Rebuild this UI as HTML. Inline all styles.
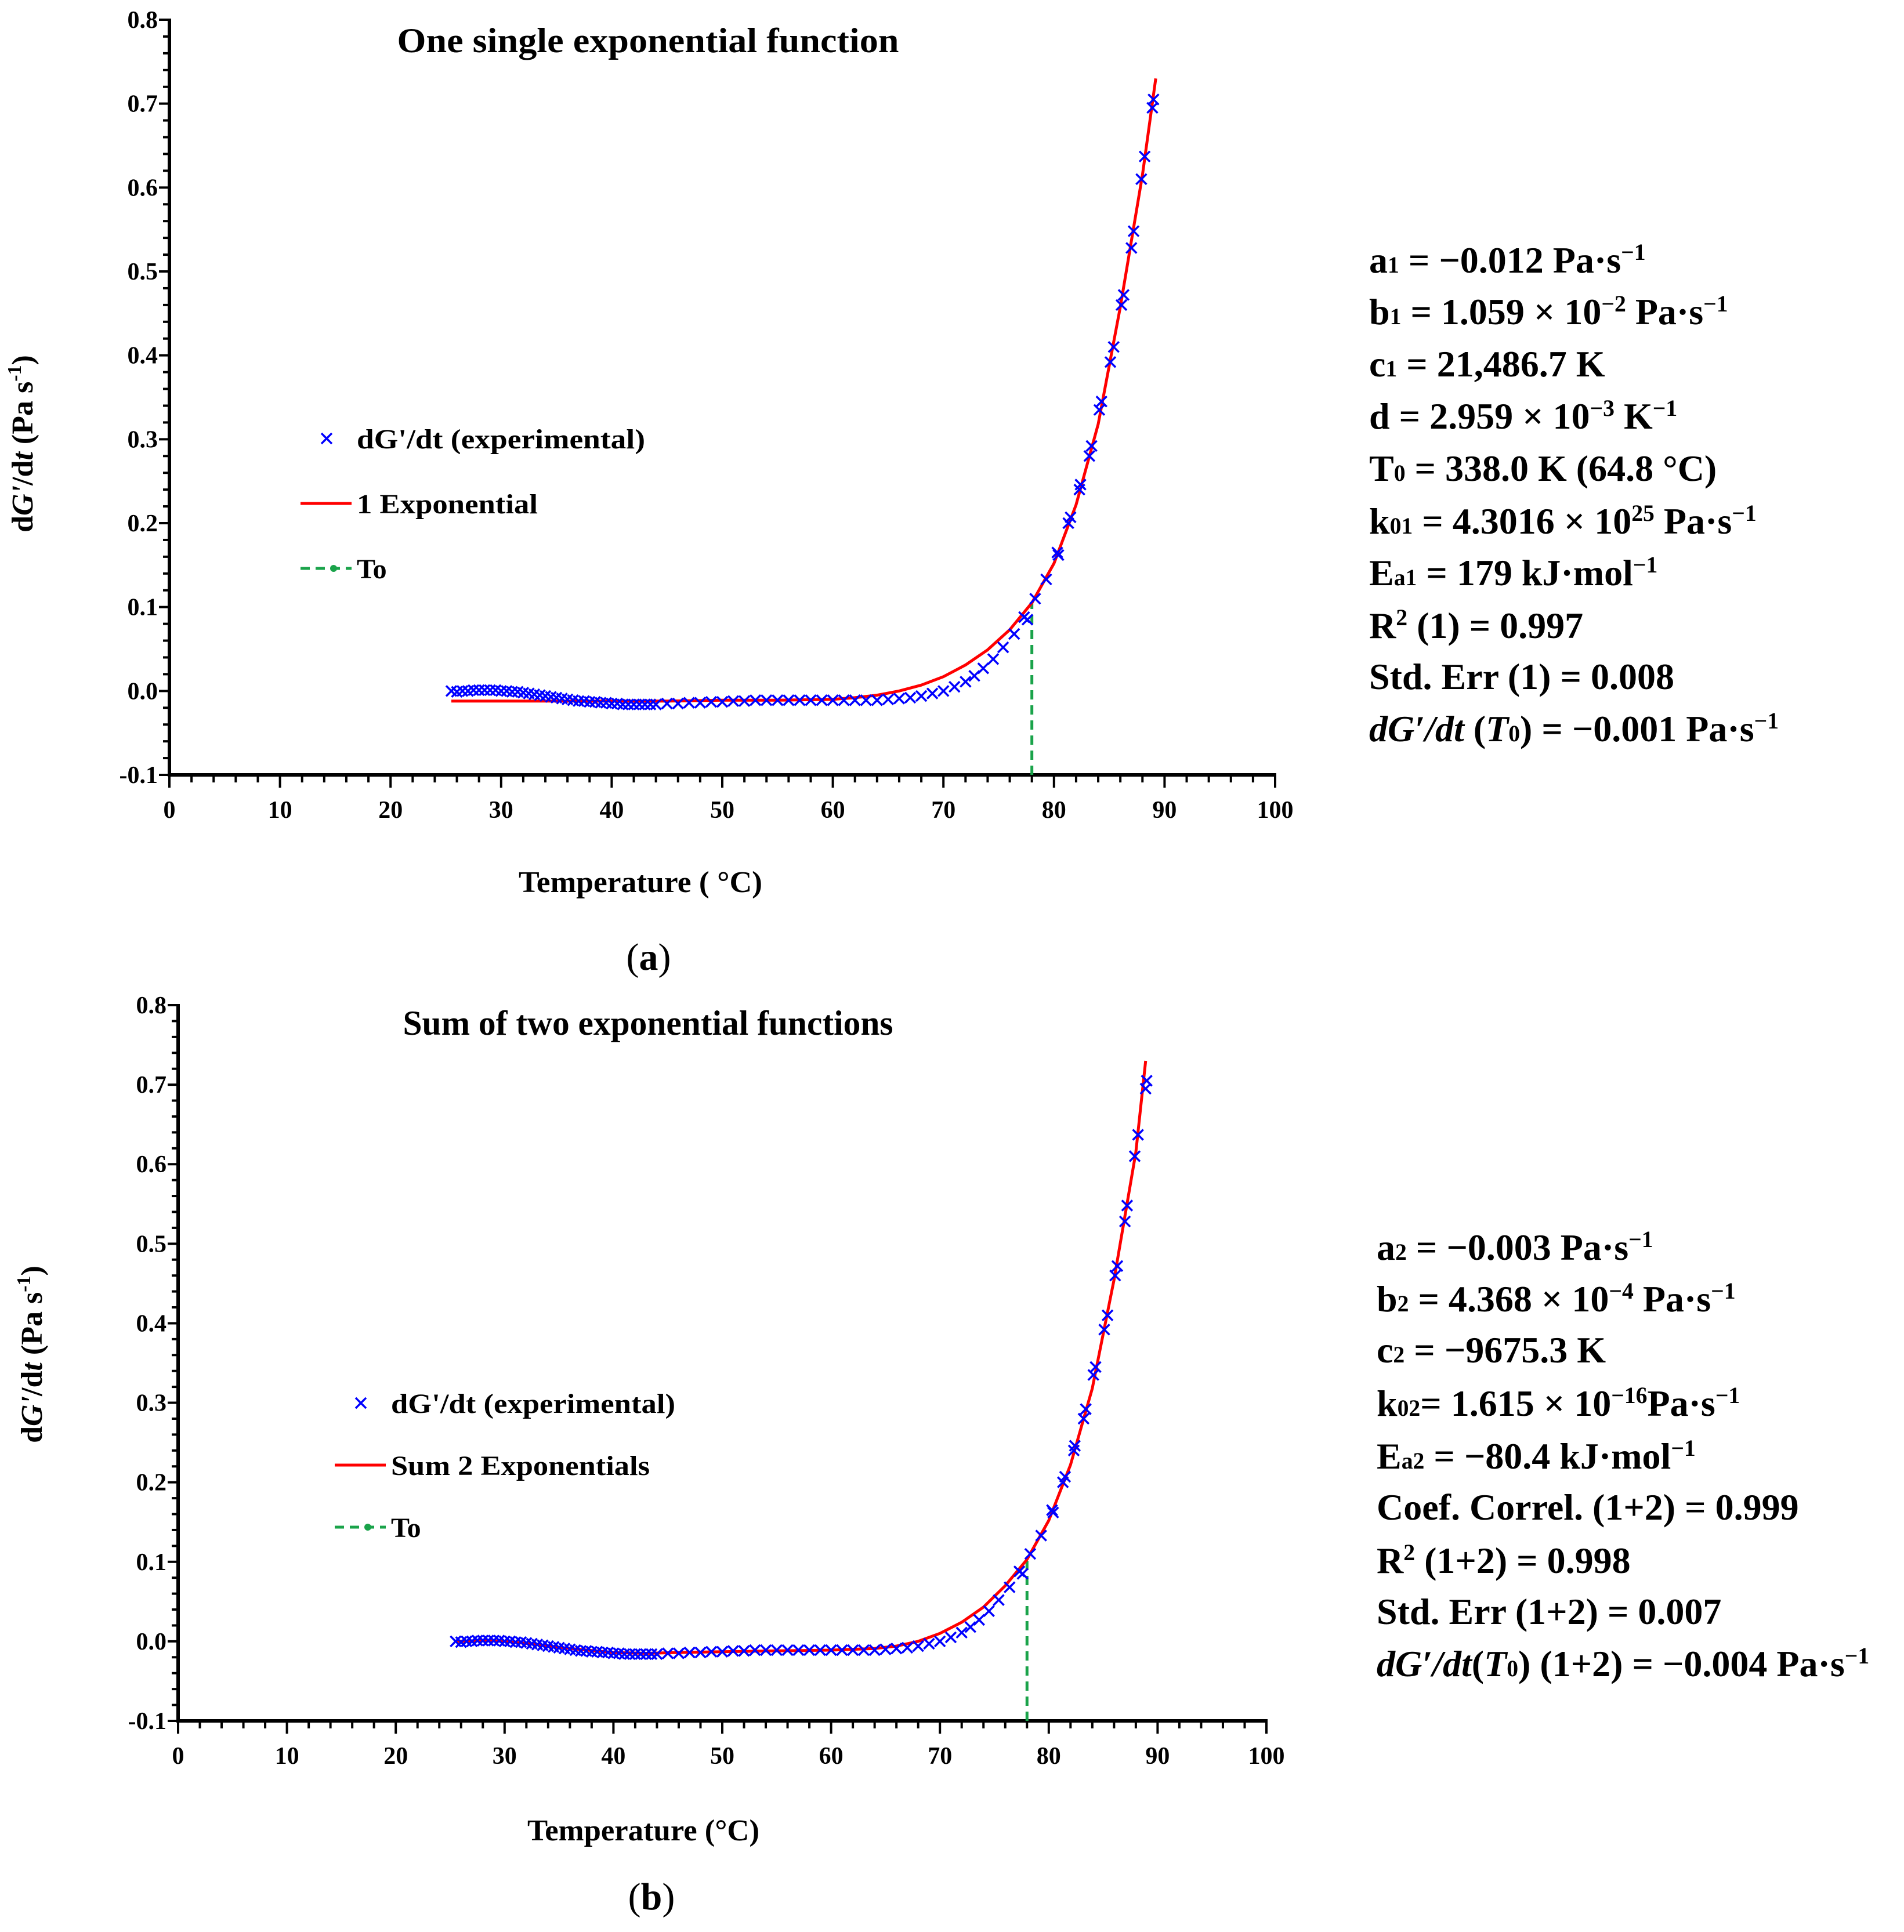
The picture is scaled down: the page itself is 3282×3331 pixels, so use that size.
<!DOCTYPE html>
<html><head><meta charset="utf-8">
<style>
html,body{margin:0;padding:0;background:#fff;}
#wrap{position:relative;width:3282px;height:3331px;overflow:hidden;background:#fff;}
svg{position:absolute;left:0;top:0;}
.ann{position:absolute;font-family:"Liberation Serif",serif;font-weight:bold;font-size:64px;color:#000;white-space:nowrap;line-height:1;}
.ann sub{font-size:0.62em;vertical-align:baseline;}
.ann sup{font-size:0.62em;vertical-align:0.55em;}
</style></head>
<body>
<div id="wrap">
<svg id="chart" width="3282" height="3331" xmlns="http://www.w3.org/2000/svg"></svg>

<div>
<div class="ann" style="left:2360px;top:416px">a<sub>1</sub> = −0.012 Pa·s<sup>−1</sup></div>
<div class="ann" style="left:2360px;top:505px">b<sub>1</sub> = 1.059 × 10<sup>−2</sup> Pa·s<sup>−1</sup></div>
<div class="ann" style="left:2360px;top:596px">c<sub>1</sub> = 21,486.7 K</div>
<div class="ann" style="left:2360px;top:685px">d = 2.959 × 10<sup>−3</sup> K<sup>−1</sup></div>
<div class="ann" style="left:2360px;top:776px">T<sub>0</sub> = 338.0 K (64.8 °C)</div>
<div class="ann" style="left:2360px;top:866px">k<sub>01</sub> = 4.3016 × 10<sup>25</sup> Pa·s<sup>−1</sup></div>
<div class="ann" style="left:2360px;top:955px">E<sub>a1</sub> = 179 kJ·mol<sup>−1</sup></div>
<div class="ann" style="left:2360px;top:1046px">R<sup>2</sup> (1) = 0.997</div>
<div class="ann" style="left:2360px;top:1135px">Std. Err (1) = 0.008</div>
<div class="ann" style="left:2360px;top:1224px"><i>dG′/dt</i> (<i>T</i><sub>0</sub>) = −0.001 Pa·s<sup>−1</sup></div>
</div>

<div>
<div class="ann" style="left:2373px;top:2118px">a<sub>2</sub> = −0.003 Pa·s<sup>−1</sup></div>
<div class="ann" style="left:2373px;top:2207px">b<sub>2</sub> = 4.368 × 10<sup>−4</sup> Pa·s<sup>−1</sup></div>
<div class="ann" style="left:2373px;top:2296px">c<sub>2</sub> = −9675.3 K</div>
<div class="ann" style="left:2373px;top:2387px">k<sub>02</sub>= 1.615 × 10<sup>−16</sup>Pa·s<sup>−1</sup></div>
<div class="ann" style="left:2373px;top:2478px">E<sub>a2</sub> = −80.4 kJ·mol<sup>−1</sup></div>
<div class="ann" style="left:2373px;top:2567px">Coef. Correl. (1+2) = 0.999</div>
<div class="ann" style="left:2373px;top:2658px">R<sup>2</sup> (1+2) = 0.998</div>
<div class="ann" style="left:2373px;top:2747px">Std. Err (1+2) = 0.007</div>
<div class="ann" style="left:2373px;top:2836px"><i>dG′/dt</i>(<i>T</i><sub>0</sub>) (1+2) = −0.004 Pa·s<sup>−1</sup></div>
</div>
</div>

<script>
// Experimental data (°C, Pa/s)
const expT = [25.5,26,26.5,27,27.5,28,28.5,29,29.5,30,30.5,31,31.5,32,32.5,33,33.5,34,34.5,35,35.5,36,36.5,37,37.5,38,38.5,39,39.5,40,40.5,41,41.5,42,42.5,43,43.5,44,45,46,47,48,49,50,51,52,53,54,55,56,57,58,59,60,61,62,63,64,65,66,67,68,69,70,71,72,72.8,73.6,74.5,75.4,76.4,77.3,77.6,78.3,79.3,80.3,80.4,81.3,81.5,82.3,82.4,83.2,83.4,84.1,84.3,85.1,85.4,86.1,86.3,87.0,87.2,87.9,88.2,88.9,89.0];
const expV = [0.000,-0.001,0.000,0.000,0.001,0.001,0.001,0.001,0.001,0.000,0.000,-0.001,-0.001,-0.002,-0.003,-0.004,-0.005,-0.006,-0.007,-0.008,-0.009,-0.010,-0.011,-0.012,-0.012,-0.013,-0.013,-0.014,-0.014,-0.015,-0.015,-0.016,-0.016,-0.016,-0.016,-0.016,-0.016,-0.016,-0.015,-0.015,-0.014,-0.014,-0.013,-0.013,-0.012,-0.012,-0.011,-0.011,-0.011,-0.011,-0.011,-0.011,-0.011,-0.011,-0.011,-0.011,-0.011,-0.011,-0.010,-0.009,-0.008,-0.006,-0.003,0.000,0.005,0.011,0.018,0.027,0.038,0.052,0.068,0.088,0.085,0.110,0.133,0.165,0.162,0.200,0.207,0.240,0.246,0.280,0.292,0.335,0.345,0.392,0.410,0.460,0.472,0.528,0.548,0.610,0.637,0.695,0.705];
// Fit 1: single exponential
const fit1T = [25.5,30,35,40,45,50,55,60,62,64,66,68,70,72,74,76,78,80,82,84,86,88,89.2];
const fit1V = [-0.012,-0.012,-0.012,-0.012,-0.012,-0.011,-0.011,-0.010,-0.008,-0.005,0.000,0.007,0.017,0.031,0.049,0.073,0.105,0.152,0.222,0.318,0.458,0.615,0.730];
// Fit 2: sum of two exponentials
const fit2T = [25.5,28,30,33,36,40,43,46,50,55,60,64,66,68,70,72,74,76,78,80,82,84,86,88,88.9];
const fit2V = [0.000,0.001,0.000,-0.004,-0.009,-0.014,-0.015,-0.014,-0.013,-0.012,-0.011,-0.009,-0.006,0.000,0.010,0.024,0.043,0.070,0.103,0.152,0.222,0.318,0.455,0.615,0.730];
// T0 marker
const t0Temp = [78];
const t0Top = [0.105];
// Axis ticks
const xTicks = [0,10,20,30,40,50,60,70,80,90,100];
const yTicks = ["-0.1","0.0","0.1","0.2","0.3","0.4","0.5","0.6","0.7","0.8"];

const NS = "http://www.w3.org/2000/svg";
const svg = document.getElementById('chart');
function mk(tag, attrs, parent){
  const e = document.createElementNS(NS, tag);
  for (const k in attrs) e.setAttribute(k, attrs[k]);
  (parent||svg).appendChild(e);
  return e;
}
const FONT = '"Liberation Serif", serif';

function drawChart(cfg){
  const g = mk('g', {});
  
  
  const X = v => cfg.x0 + (v - 0) / 100 * (cfg.x1 - cfg.x0);
  const Y = v => cfg.yb + (v - (-0.1)) / 0.9 * (cfg.yt - cfg.yb);

  const ax = mk('g', {}, g);
  
  
  mk('line', {x1:X(0), y1:Y(0.8)-2, x2:X(0), y2:Y(-0.1)+3, stroke:'#000','stroke-width':6}, ax);
  mk('line', {x1:X(0)-3, y1:Y(-0.1), x2:X(100)+2, y2:Y(-0.1), stroke:'#000','stroke-width':6}, ax);
  for (let v = 0; v <= 100; v += 2) {
    const major = v % 10 === 0;
    mk('line', {x1:X(v), y1:Y(-0.1), x2:X(v), y2:Y(-0.1) + (major?22:13), stroke:'#000','stroke-width':4}, ax);
  }
  xTicks.forEach(v => {
    const t = mk('text', {x:X(v), y:Y(-0.1)+74, 'text-anchor':'middle','font-family':FONT,'font-weight':'bold','font-size':42}, ax);
    
    
    t.textContent = v;
  });
  for (let i = 0; i <= 45; i++) {
    const v = -0.1 + i * 0.02;
    const major = i % 5 === 0;
    mk('line', {x1:X(0) - (major?18:11), y1:Y(v), x2:X(0), y2:Y(v), stroke:'#000','stroke-width':4}, ax);
  }
  yTicks.forEach(s => {
    const v = parseFloat(s);
    const t = mk('text', {x:X(0)-20, y:Y(v)+14, 'text-anchor':'end','font-family':FONT,'font-weight':'bold','font-size':42}, ax);
    
    
    t.textContent = s;
  });

  const t0 = mk('line', {x1:X(t0Temp[0]), y1:Y(-0.1), x2:X(t0Temp[0]), y2:Y(t0Top[0]), stroke:'#1aa34a','stroke-width':5,'stroke-dasharray':'16,10'}, g);
  
  

  const pts = cfg.fitT.map((t,i) => X(t).toFixed(1) + ',' + Y(cfg.fitV[i]).toFixed(1)).join(' ');
  const fl = mk('polyline', {points:pts, fill:'none', stroke:'#ff0000','stroke-width':5,'stroke-linejoin':'round'}, g);
  
  

  const mg = mk('g', {stroke:'#0000ff','stroke-width':3.5}, g);
  
  
  const s = 9;
  expT.forEach((t,i) => {
    const cx = X(t), cy = Y(expV[i]);
    const p = mk('path', {d:`M${cx-s},${cy-s}L${cx+s},${cy+s}M${cx-s},${cy+s}L${cx+s},${cy-s}`}, mg);
    
    
  });

  const ti = mk('text', {x:cfg.titleX, y:cfg.titleY, 'text-anchor':'middle','font-family':FONT,'font-weight':'bold','font-size':60, textLength:cfg.titleLen, lengthAdjust:'spacingAndGlyphs'}, g);
  
  
  ti.textContent = cfg.title;

  const xt = mk('text', {x:cfg.xtX, y:cfg.xtY, 'text-anchor':'middle','font-family':FONT,'font-weight':'bold','font-size':52, textLength:cfg.xtLen, lengthAdjust:'spacingAndGlyphs'}, g);
  
  
  xt.textContent = cfg.xtitle;

  const yt = mk('text', {x:0, y:0, transform:`translate(${cfg.ytX},${cfg.ytY}) rotate(-90)`, 'text-anchor':'middle','font-family':FONT,'font-weight':'bold','font-size':52}, g);
  
  
  yt.innerHTML = 'd<tspan font-style="italic">G\'</tspan>/d<tspan font-style="italic">t</tspan> (Pa s<tspan font-size="34" dy="-20">-1</tspan><tspan dy="20">)</tspan>';

  const pl = mk('text', {x:cfg.xtX+14, y:cfg.plY, 'text-anchor':'middle','font-family':FONT,'font-size':66}, g);
  
  
  pl.innerHTML = '(<tspan font-weight="bold">' + cfg.panel + '</tspan>)';

  const lg = mk('g', {}, g);
  
  
  const lx = cfg.legX, ly = cfg.legY;
  const m = mk('path', {d:`M${lx+45-9},${ly-9}L${lx+45+9},${ly+9}M${lx+45-9},${ly+9}L${lx+45+9},${ly-9}`, stroke:'#0000ff','stroke-width':3.5}, lg);
  
  
  const l1 = mk('text', {x:lx+97, y:ly+17, 'font-family':FONT,'font-weight':'bold','font-size':48, textLength:cfg.leg1Len, lengthAdjust:'spacingAndGlyphs'}, lg);
  
  
  l1.textContent = "dG'/dt (experimental)";
  const ln = mk('line', {x1:lx, y1:ly+cfg.legGap, x2:lx+88, y2:ly+cfg.legGap, stroke:'#ff0000','stroke-width':5}, lg);
  
  
  const l2 = mk('text', {x:lx+97, y:ly+cfg.legGap+17, 'font-family':FONT,'font-weight':'bold','font-size':48, textLength:cfg.leg2Len, lengthAdjust:'spacingAndGlyphs'}, lg);
  
  
  l2.textContent = cfg.fitLabel;
  const ld = mk('line', {x1:lx, y1:ly+2*cfg.legGap, x2:lx+88, y2:ly+2*cfg.legGap, stroke:'#1aa34a','stroke-width':5,'stroke-dasharray':'16,10'}, lg);
  
  
  mk('circle', {cx:lx+57, cy:ly+2*cfg.legGap, r:6, fill:'#1aa34a'}, lg);
  const l3 = mk('text', {x:lx+97, y:ly+2*cfg.legGap+17, 'font-family':FONT,'font-weight':'bold','font-size':48}, lg);
  
  
  l3.textContent = 'To';
}

drawChart({name:'chart-a', x0:292, x1:2198, yt:34, yb:1336, fitT:fit1T, fitV:fit1V,
  title:'One single exponential function', titleX:1117, titleY:90, titleLen:865,
  xtitle:'Temperature ( °C)', xtX:1104, xtY:1538, xtLen:420, ytX:56, ytY:765, plY:1672, panel:'a',
  legX:518, legY:756, legGap:112, leg1Len:497, leg2Len:312, fitLabel:'1 Exponential'});

drawChart({name:'chart-b', x0:307, x1:2183, yt:1733, yb:2967, fitT:fit2T, fitV:fit2V,
  title:'Sum of two exponential functions', titleX:1117, titleY:1784, titleLen:845,
  xtitle:'Temperature (°C)', xtX:1109, xtY:3173, xtLen:400, ytX:72, ytY:2335, plY:3292, panel:'b',
  legX:577, legY:2419, legGap:107, leg1Len:490, leg2Len:446, fitLabel:'Sum 2 Exponentials'});
</script>
</body></html>
